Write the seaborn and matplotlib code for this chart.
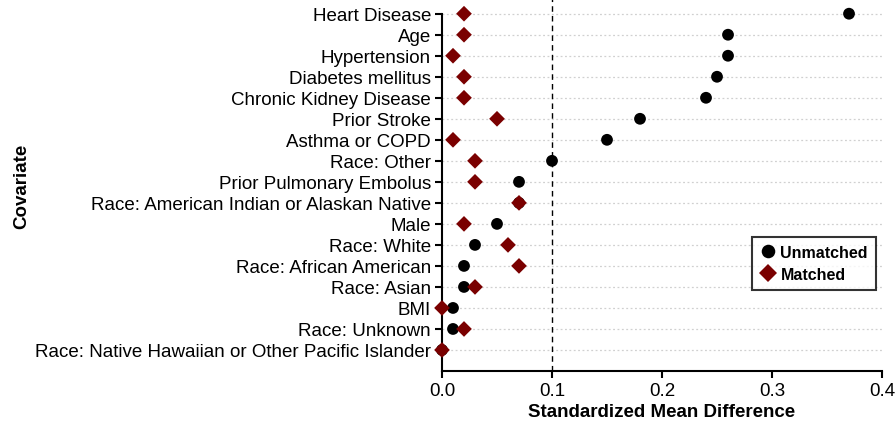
import matplotlib
matplotlib.use("Agg")
import matplotlib.pyplot as plt
import pandas as pd
import seaborn as sns

# Covariates, top to bottom
covariates = [
    "Heart Disease", "Age", "Hypertension", "Diabetes mellitus",
    "Chronic Kidney Disease", "Prior Stroke", "Asthma or COPD",
    "Race: Other", "Prior Pulmonary Embolus",
    "Race: American Indian or Alaskan Native", "Male", "Race: White",
    "Race: African American", "Race: Asian", "BMI", "Race: Unknown",
    "Race: Native Hawaiian or Other Pacific Islander",
]
unmatched = [0.37, 0.26, 0.26, 0.25, 0.24, 0.18, 0.15, 0.10, 0.07, 0.07,
             0.05, 0.03, 0.02, 0.02, 0.01, 0.01, 0.00]
matched = [0.02, 0.02, 0.01, 0.02, 0.02, 0.05, 0.01, 0.03, 0.03, 0.07,
           0.02, 0.06, 0.07, 0.03, 0.00, 0.02, 0.00]
xticks = [0.0, 0.1, 0.2, 0.3, 0.4]

df = pd.DataFrame({"Covariate": covariates * 2,
                   "smd": unmatched + matched,
                   "Sample": ["Unmatched"] * len(covariates) + ["Matched"] * len(covariates)})

sns.set_style("white")
plt.rcParams["font.family"] = ["Liberation Sans", "DejaVu Sans"]
plt.rcParams["text.color"] = "black"
plt.rcParams["axes.labelcolor"] = "black"
plt.rcParams["xtick.color"] = "black"
plt.rcParams["ytick.color"] = "black"

fig = plt.figure(figsize=(8.96, 4.31), dpi=100)
ax = fig.add_axes([0.4933, 0.1369, 0.4911, 0.8631])

# dotted row guides
for i in range(len(covariates)):
    ax.axhline(i, color="#d0d0d0", lw=0.9, ls=(0, (1.5, 2)), zorder=0)
ax.axvline(0.1, color="black", lw=1, ls=(0, (4, 3)), zorder=1)

order = ["Unmatched", "Matched"]
sns.scatterplot(data=df, x="smd", y="Covariate", hue="Sample", style="Sample", size="Sample",
                hue_order=order, style_order=order, size_order=order,
                palette={"Unmatched": "black", "Matched": "#7a0000"},
                markers={"Unmatched": "o", "Matched": "D"},
                sizes={"Unmatched": 72, "Matched": 64},
                linewidth=0, ax=ax, zorder=3, clip_on=False)

ax.set_xlim(0, 0.4)
ax.set_ylim(len(covariates), -0.7)
ax.set_xticks(xticks)
ax.set_xticklabels(["%.1f" % t for t in xticks])
ax.tick_params(axis="both", direction="out", length=5, width=1.5, color="black",
               labelcolor="black", labelsize=13.5, pad=3, left=True, bottom=True)
for s in ["top", "right"]:
    ax.spines[s].set_visible(False)
for s in ["left", "bottom"]:
    ax.spines[s].set_color("black")
    ax.spines[s].set_linewidth(1.5)
ax.spines["left"].set_bounds(len(covariates), 0)

ax.set_xlabel("Standardized Mean Difference", fontsize=13.5, fontweight="bold", labelpad=3)
ax.set_ylabel("Covariate", fontsize=13.5, fontweight="bold", labelpad=3)

leg = ax.legend(loc="center right", bbox_to_anchor=(0.986, 0.29), frameon=True,
                fancybox=False, edgecolor="black", borderaxespad=0,
                prop={"weight": "bold", "size": 11.5}, handletextpad=0.3,
                handlelength=1.0, borderpad=0.5, labelspacing=0.45, markerscale=1.15)
leg.get_frame().set_linewidth(1.5)

fig.savefig("out.png", dpi=100)
